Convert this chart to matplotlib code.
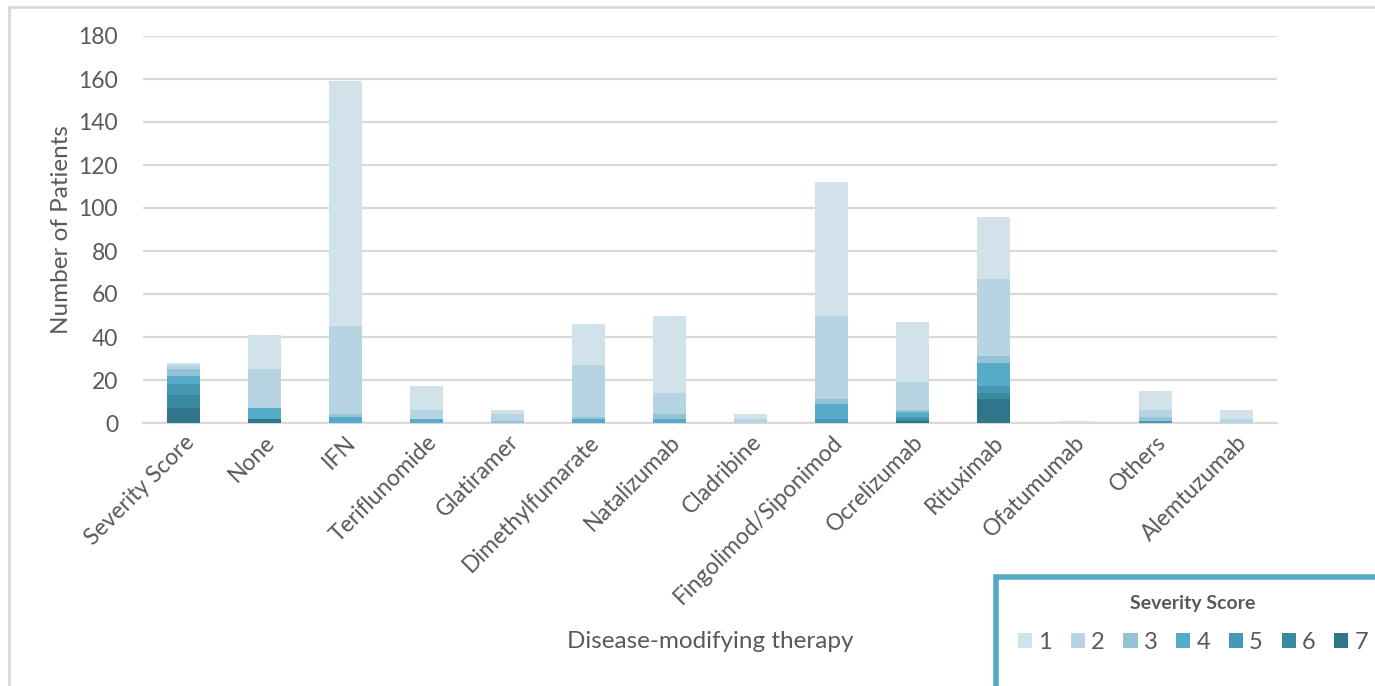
import matplotlib
matplotlib.use("Agg")
import matplotlib.pyplot as plt
from matplotlib.patches import Rectangle, Patch
import numpy as np

categories = ["Severity Score", "None", "IFN", "Teriflunomide", "Glatiramer",
              "Dimethylfumarate", "Natalizumab", "Cladribine", "Fingolimod/Siponimod",
              "Ocrelizumab", "Rituximab", "Ofatumumab", "Others", "Alemtuzumab"]
score_labels = ["1", "2", "3", "4", "5", "6", "7"]
score1 = [1, 16, 114, 11, 2, 19, 36, 2, 62, 28, 29, 1, 9, 4]
score2 = [2, 18, 41, 4, 3, 24, 10, 2, 39, 13, 36, 0, 3, 2]
score3 = [3, 0, 1, 0, 1, 1, 2, 0, 2, 1, 3, 0, 2, 0]
score4 = [4, 5, 3, 2, 0, 2, 2, 0, 7, 2, 11, 0, 0, 0]
score5 = [5, 0, 0, 0, 0, 0, 0, 0, 2, 1, 3, 0, 1, 0]
score6 = [6, 0, 0, 0, 0, 0, 0, 0, 0, 1, 3, 0, 0, 0]
score7 = [7, 2, 0, 0, 0, 0, 0, 0, 0, 1, 11, 0, 0, 0]
yticks = [0, 20, 40, 60, 80, 100, 120, 140, 160, 180]

colors = ["#D2E2EA", "#B6D4E2", "#94C3D6", "#56ABC8", "#4699B5", "#3A8AA2", "#2F768A"]
series = [score1, score2, score3, score4, score5, score6, score7]

plt.rcParams['font.family'] = ['Lato', 'DejaVu Sans']
W, H = 1375, 686
fig = plt.figure(figsize=(W / 100, H / 100), dpi=100)
ax = fig.add_axes([143 / W, 1 - 423 / H, (1277 - 143) / W, (423 - 36) / H])

x = np.arange(len(categories))
bottom = np.zeros(len(categories))
handles = []
# stack from score 7 at bottom up to score 1 on top
for lab, vals, col in reversed(list(zip(score_labels, series, colors))):
    v = np.array(vals, dtype=float)
    ax.bar(x, v, bottom=bottom, width=0.41, color=col, edgecolor="none",
           linewidth=0, zorder=3)
    bottom += v
for lab, col in zip(score_labels, colors):
    handles.append(Patch(facecolor=col, edgecolor="none", label=lab))

ax.set_xlim(-0.5, len(categories) - 0.5)
ax.set_ylim(0, 180)
ax.set_yticks(yticks)
ax.yaxis.grid(True, color="#D9D9D9", linewidth=1.6, zorder=0)
ax.set_axisbelow(True)
for s in ["left", "right", "top"]:
    ax.spines[s].set_visible(False)
ax.spines["bottom"].set_color("#D9D9D9")
ax.spines["bottom"].set_linewidth(1.6)
ax.tick_params(axis="both", length=0, labelsize=16.5, labelcolor="#595959")
ax.tick_params(axis="y", pad=18)
ax.tick_params(axis="x", pad=6)
ax.set_xticks(x)
ax.set_xticklabels(categories, rotation=45, ha="right", rotation_mode="anchor")

fig.text(710 / W, 1 - 642 / H, "Disease-modifying therapy", ha="center", va="center",
         fontsize=17.5, color="#595959")
fig.text(62 / W, 1 - 230 / H, "Number of Patients", ha="center", va="center",
         rotation=90, fontsize=17.5, color="#595959")

# outer chart border
fig.patches.append(Rectangle((9 / W, -0.1), 1.2, 1 - 7 / H + 0.1, transform=fig.transFigure,
                             fill=False, edgecolor="#D9D9D9", linewidth=2, zorder=0))
# legend box
fig.patches.append(Rectangle((996 / W, -0.1), 1.0, 1 - 577 / H + 0.1, transform=fig.transFigure,
                             facecolor="white", edgecolor="#56A9C5", linewidth=4, zorder=1))
leg = fig.legend(handles=handles, ncol=7, loc="center", bbox_to_anchor=(1193 / W, 1 - 624 / H),
                 frameon=False, title="Severity Score", fontsize=17,
                 handlelength=0.6, handleheight=0.6, handletextpad=0.25,
                 columnspacing=0.8, labelcolor="#595959")
leg.get_title().set_fontsize(14)
leg.get_title().set_fontweight("bold")
leg.get_title().set_color("#595959")
leg._legend_box.sep = 14
leg.set_zorder(5)

fig.savefig("out.png", dpi=100)
